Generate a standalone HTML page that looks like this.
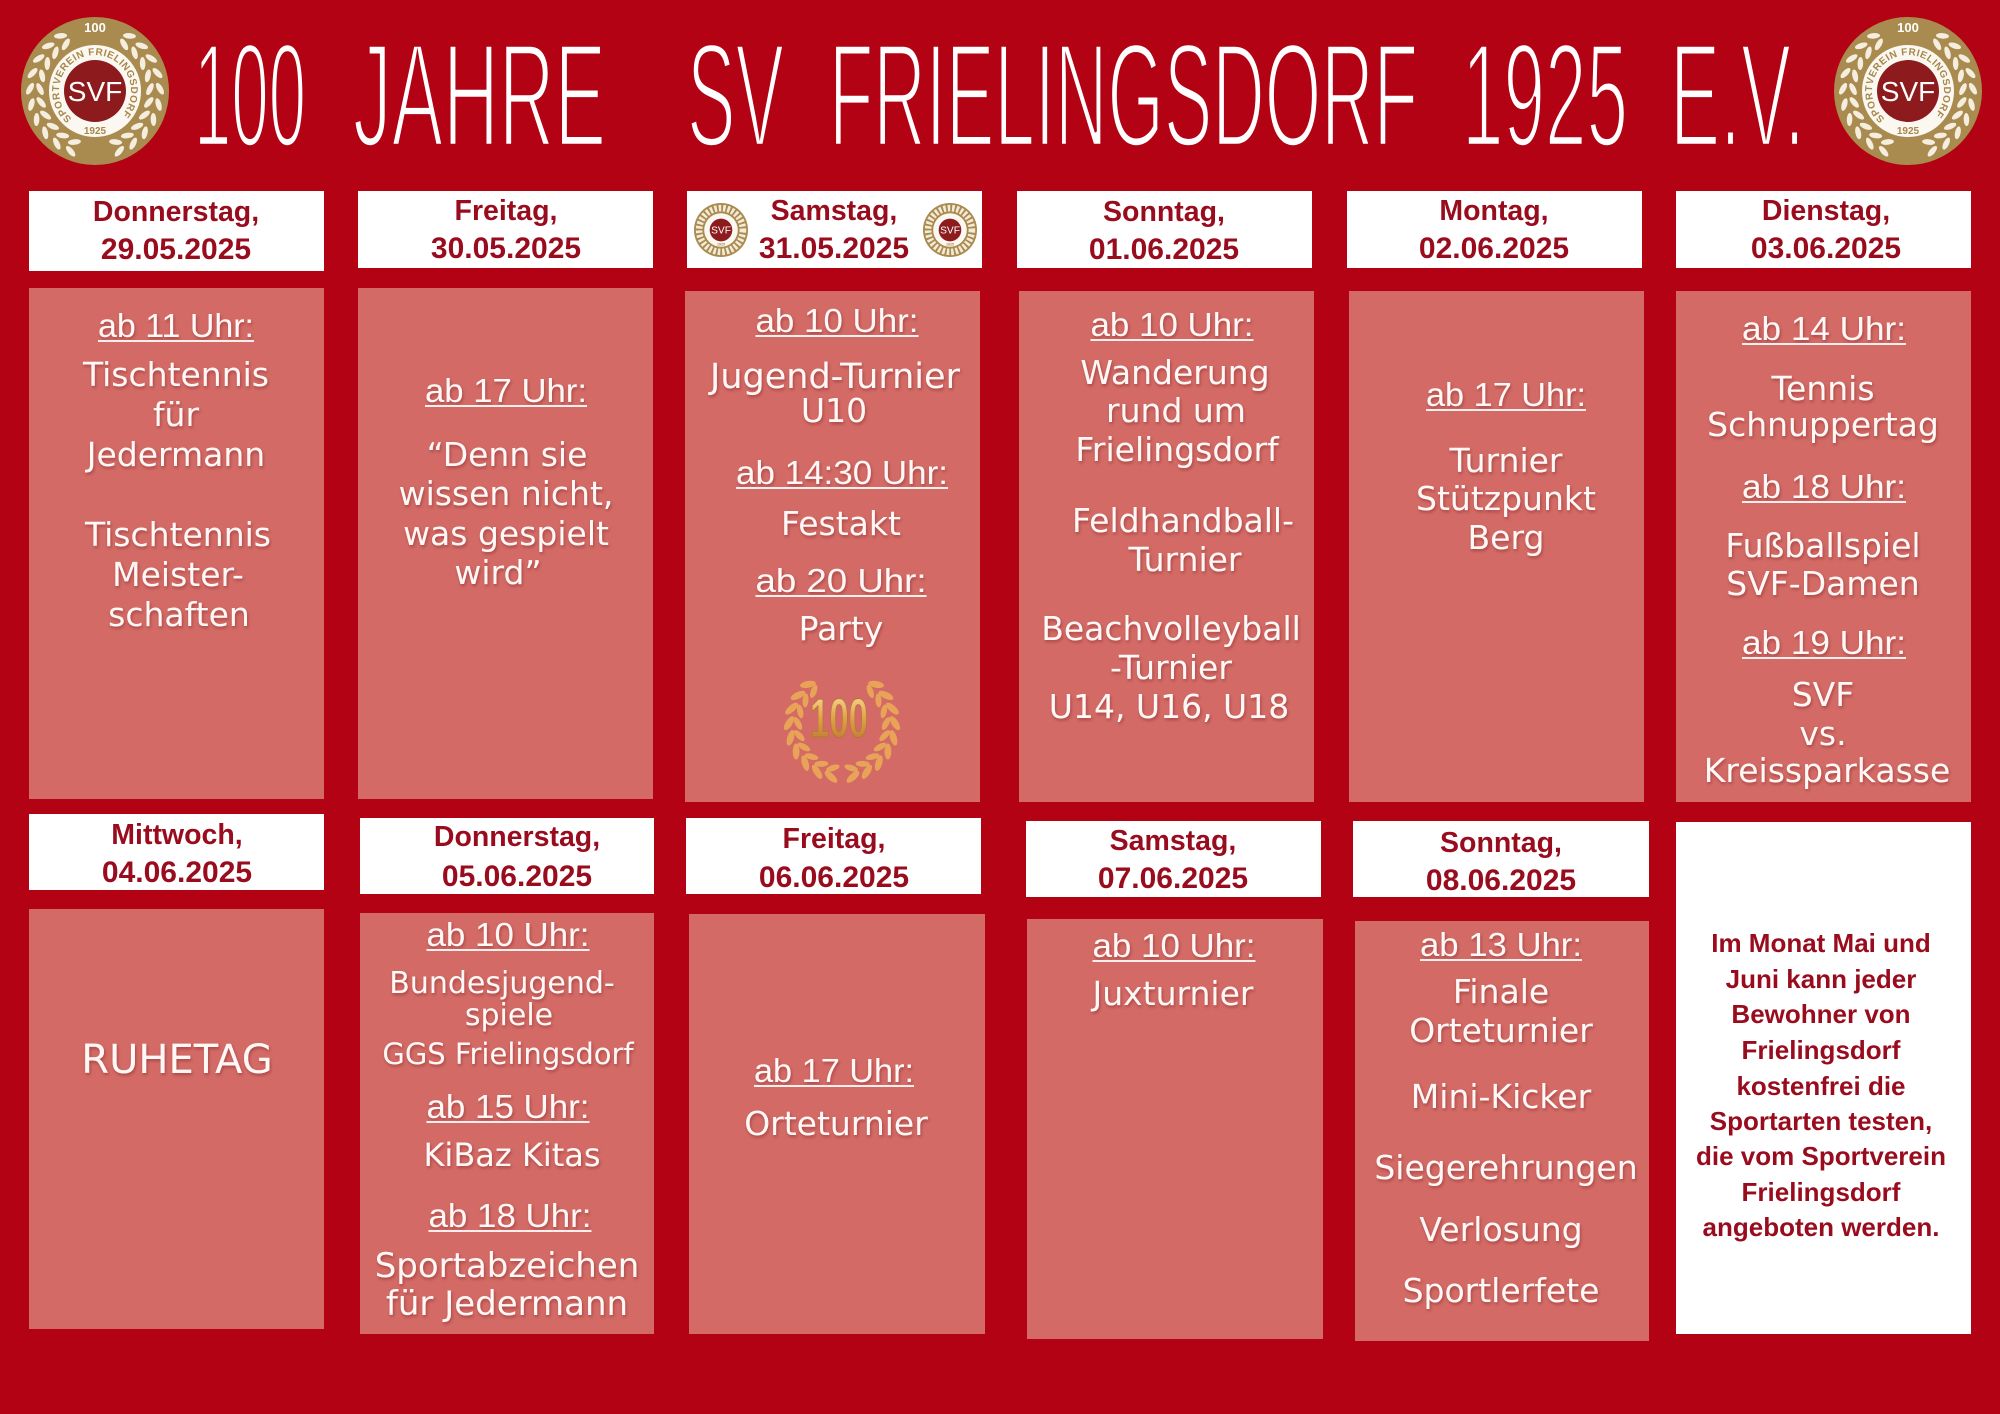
<!DOCTYPE html>
<html><head><meta charset="utf-8"><title>100 Jahre SV Frielingsdorf</title>
<style>
html,body{margin:0;padding:0;background:#b30213;}
svg{display:block;}
.hd{font-family:"Liberation Sans",sans-serif;font-weight:bold;fill:#980c1e;text-anchor:middle;}
.bd{font-family:"DejaVu Sans","Liberation Sans",sans-serif;fill:#fff8f6;text-anchor:middle;font-size:33px;}
.tm{font-family:"Liberation Sans",sans-serif;fill:#fff8f6;text-anchor:middle;font-size:33px;}
.ul{stroke:#fbeeec;stroke-width:2;}
.tt{font-family:"Liberation Sans",sans-serif;fill:#fff;stroke:#b30213;stroke-width:4.5;font-size:147.5px;}
.lg{font-family:"Liberation Sans",sans-serif;}
</style></head>
<body>
<svg width="2000" height="1414" viewBox="0 0 2000 1414" xmlns="http://www.w3.org/2000/svg">
<defs>
<filter id="sh" x="-10%" y="-10%" width="120%" height="120%"><feDropShadow dx="1" dy="2" stdDeviation="1.5" flood-color="#5a0000" flood-opacity="0.35"/></filter>
<path id="arc" d="M -23.1 27.6 A 36 36 0 1 1 23.1 27.6"/>
<linearGradient id="gold" x1="0" y1="0" x2="0" y2="1"><stop offset="0" stop-color="#ffe7a6"/><stop offset="0.5" stop-color="#dfa246"/><stop offset="1" stop-color="#b4702c"/></linearGradient>
</defs>
<rect width="2000" height="1414" fill="#b30213"/>

<!-- TITLE -->
<g class="tt">
<text x="194" y="146" textLength="112" lengthAdjust="spacingAndGlyphs">100</text>
<text x="353" y="146" textLength="253" lengthAdjust="spacingAndGlyphs">JAHRE</text>
<text x="687" y="146" textLength="97" lengthAdjust="spacingAndGlyphs">SV</text>
<text x="829" y="146" textLength="589" lengthAdjust="spacingAndGlyphs">FRIELINGSDORF</text>
<text x="1462" y="146" textLength="166" lengthAdjust="spacingAndGlyphs">1925</text>
<text x="1670" y="146" textLength="135" lengthAdjust="spacingAndGlyphs">E.V.</text>
</g>

<!-- LOGO LEFT -->
<g class="lg" transform="translate(95 91)">
<circle r="74" fill="#aa8b4f"/>
<g fill="#f5eedf">
<g transform="rotate(32)"><ellipse cy="-65" rx="6.5" ry="2.8" transform="rotate(-28 0 -65)"/><ellipse cy="-55" rx="6.5" ry="2.8" transform="rotate(28 0 -55)"/></g>
<g transform="rotate(46)"><ellipse cy="-65" rx="6.5" ry="2.8" transform="rotate(-28 0 -65)"/><ellipse cy="-55" rx="6.5" ry="2.8" transform="rotate(28 0 -55)"/></g>
<g transform="rotate(60)"><ellipse cy="-65" rx="6.5" ry="2.8" transform="rotate(-28 0 -65)"/><ellipse cy="-55" rx="6.5" ry="2.8" transform="rotate(28 0 -55)"/></g>
<g transform="rotate(74)"><ellipse cy="-65" rx="6.5" ry="2.8" transform="rotate(-28 0 -65)"/><ellipse cy="-55" rx="6.5" ry="2.8" transform="rotate(28 0 -55)"/></g>
<g transform="rotate(88)"><ellipse cy="-65" rx="6.5" ry="2.8" transform="rotate(-28 0 -65)"/><ellipse cy="-55" rx="6.5" ry="2.8" transform="rotate(28 0 -55)"/></g>
<g transform="rotate(102)"><ellipse cy="-65" rx="6.5" ry="2.8" transform="rotate(-28 0 -65)"/><ellipse cy="-55" rx="6.5" ry="2.8" transform="rotate(28 0 -55)"/></g>
<g transform="rotate(116)"><ellipse cy="-65" rx="6.5" ry="2.8" transform="rotate(-28 0 -65)"/><ellipse cy="-55" rx="6.5" ry="2.8" transform="rotate(28 0 -55)"/></g>
<g transform="rotate(130)"><ellipse cy="-65" rx="6.5" ry="2.8" transform="rotate(-28 0 -65)"/><ellipse cy="-55" rx="6.5" ry="2.8" transform="rotate(28 0 -55)"/></g>
<g transform="rotate(144)"><ellipse cy="-65" rx="6.5" ry="2.8" transform="rotate(-28 0 -65)"/><ellipse cy="-55" rx="6.5" ry="2.8" transform="rotate(28 0 -55)"/></g>
<g transform="rotate(158)"><ellipse cy="-65" rx="6.5" ry="2.8" transform="rotate(-28 0 -65)"/><ellipse cy="-55" rx="6.5" ry="2.8" transform="rotate(28 0 -55)"/></g>
<g transform="rotate(-32)"><ellipse cy="-65" rx="6.5" ry="2.8" transform="rotate(28 0 -65)"/><ellipse cy="-55" rx="6.5" ry="2.8" transform="rotate(-28 0 -55)"/></g>
<g transform="rotate(-46)"><ellipse cy="-65" rx="6.5" ry="2.8" transform="rotate(28 0 -65)"/><ellipse cy="-55" rx="6.5" ry="2.8" transform="rotate(-28 0 -55)"/></g>
<g transform="rotate(-60)"><ellipse cy="-65" rx="6.5" ry="2.8" transform="rotate(28 0 -65)"/><ellipse cy="-55" rx="6.5" ry="2.8" transform="rotate(-28 0 -55)"/></g>
<g transform="rotate(-74)"><ellipse cy="-65" rx="6.5" ry="2.8" transform="rotate(28 0 -65)"/><ellipse cy="-55" rx="6.5" ry="2.8" transform="rotate(-28 0 -55)"/></g>
<g transform="rotate(-88)"><ellipse cy="-65" rx="6.5" ry="2.8" transform="rotate(28 0 -65)"/><ellipse cy="-55" rx="6.5" ry="2.8" transform="rotate(-28 0 -55)"/></g>
<g transform="rotate(-102)"><ellipse cy="-65" rx="6.5" ry="2.8" transform="rotate(28 0 -65)"/><ellipse cy="-55" rx="6.5" ry="2.8" transform="rotate(-28 0 -55)"/></g>
<g transform="rotate(-116)"><ellipse cy="-65" rx="6.5" ry="2.8" transform="rotate(28 0 -65)"/><ellipse cy="-55" rx="6.5" ry="2.8" transform="rotate(-28 0 -55)"/></g>
<g transform="rotate(-130)"><ellipse cy="-65" rx="6.5" ry="2.8" transform="rotate(28 0 -65)"/><ellipse cy="-55" rx="6.5" ry="2.8" transform="rotate(-28 0 -55)"/></g>
<g transform="rotate(-144)"><ellipse cy="-65" rx="6.5" ry="2.8" transform="rotate(28 0 -65)"/><ellipse cy="-55" rx="6.5" ry="2.8" transform="rotate(-28 0 -55)"/></g>
<g transform="rotate(-158)"><ellipse cy="-65" rx="6.5" ry="2.8" transform="rotate(28 0 -65)"/><ellipse cy="-55" rx="6.5" ry="2.8" transform="rotate(-28 0 -55)"/></g>
</g>
<circle r="46" fill="#fbf8f2"/>
<circle r="31" fill="#8d1b1e"/>
<text y="10" font-size="28" fill="#fff" text-anchor="middle">SVF</text>
<text font-size="10" font-weight="bold" fill="#a8874a"><textPath href="#arc" textLength="170" lengthAdjust="spacing">SPORTVEREIN FRIELINGSDORF</textPath></text>
<text y="43" font-size="10" font-weight="bold" fill="#a8874a" text-anchor="middle">1925</text>
<text y="-59" font-size="13" font-weight="bold" fill="#fff" text-anchor="middle">100</text>
</g>

<!-- LOGO RIGHT -->
<g class="lg" transform="translate(1908 91)">
<circle r="74" fill="#aa8b4f"/>
<g fill="#f5eedf">
<g transform="rotate(32)"><ellipse cy="-65" rx="6.5" ry="2.8" transform="rotate(-28 0 -65)"/><ellipse cy="-55" rx="6.5" ry="2.8" transform="rotate(28 0 -55)"/></g>
<g transform="rotate(46)"><ellipse cy="-65" rx="6.5" ry="2.8" transform="rotate(-28 0 -65)"/><ellipse cy="-55" rx="6.5" ry="2.8" transform="rotate(28 0 -55)"/></g>
<g transform="rotate(60)"><ellipse cy="-65" rx="6.5" ry="2.8" transform="rotate(-28 0 -65)"/><ellipse cy="-55" rx="6.5" ry="2.8" transform="rotate(28 0 -55)"/></g>
<g transform="rotate(74)"><ellipse cy="-65" rx="6.5" ry="2.8" transform="rotate(-28 0 -65)"/><ellipse cy="-55" rx="6.5" ry="2.8" transform="rotate(28 0 -55)"/></g>
<g transform="rotate(88)"><ellipse cy="-65" rx="6.5" ry="2.8" transform="rotate(-28 0 -65)"/><ellipse cy="-55" rx="6.5" ry="2.8" transform="rotate(28 0 -55)"/></g>
<g transform="rotate(102)"><ellipse cy="-65" rx="6.5" ry="2.8" transform="rotate(-28 0 -65)"/><ellipse cy="-55" rx="6.5" ry="2.8" transform="rotate(28 0 -55)"/></g>
<g transform="rotate(116)"><ellipse cy="-65" rx="6.5" ry="2.8" transform="rotate(-28 0 -65)"/><ellipse cy="-55" rx="6.5" ry="2.8" transform="rotate(28 0 -55)"/></g>
<g transform="rotate(130)"><ellipse cy="-65" rx="6.5" ry="2.8" transform="rotate(-28 0 -65)"/><ellipse cy="-55" rx="6.5" ry="2.8" transform="rotate(28 0 -55)"/></g>
<g transform="rotate(144)"><ellipse cy="-65" rx="6.5" ry="2.8" transform="rotate(-28 0 -65)"/><ellipse cy="-55" rx="6.5" ry="2.8" transform="rotate(28 0 -55)"/></g>
<g transform="rotate(158)"><ellipse cy="-65" rx="6.5" ry="2.8" transform="rotate(-28 0 -65)"/><ellipse cy="-55" rx="6.5" ry="2.8" transform="rotate(28 0 -55)"/></g>
<g transform="rotate(-32)"><ellipse cy="-65" rx="6.5" ry="2.8" transform="rotate(28 0 -65)"/><ellipse cy="-55" rx="6.5" ry="2.8" transform="rotate(-28 0 -55)"/></g>
<g transform="rotate(-46)"><ellipse cy="-65" rx="6.5" ry="2.8" transform="rotate(28 0 -65)"/><ellipse cy="-55" rx="6.5" ry="2.8" transform="rotate(-28 0 -55)"/></g>
<g transform="rotate(-60)"><ellipse cy="-65" rx="6.5" ry="2.8" transform="rotate(28 0 -65)"/><ellipse cy="-55" rx="6.5" ry="2.8" transform="rotate(-28 0 -55)"/></g>
<g transform="rotate(-74)"><ellipse cy="-65" rx="6.5" ry="2.8" transform="rotate(28 0 -65)"/><ellipse cy="-55" rx="6.5" ry="2.8" transform="rotate(-28 0 -55)"/></g>
<g transform="rotate(-88)"><ellipse cy="-65" rx="6.5" ry="2.8" transform="rotate(28 0 -65)"/><ellipse cy="-55" rx="6.5" ry="2.8" transform="rotate(-28 0 -55)"/></g>
<g transform="rotate(-102)"><ellipse cy="-65" rx="6.5" ry="2.8" transform="rotate(28 0 -65)"/><ellipse cy="-55" rx="6.5" ry="2.8" transform="rotate(-28 0 -55)"/></g>
<g transform="rotate(-116)"><ellipse cy="-65" rx="6.5" ry="2.8" transform="rotate(28 0 -65)"/><ellipse cy="-55" rx="6.5" ry="2.8" transform="rotate(-28 0 -55)"/></g>
<g transform="rotate(-130)"><ellipse cy="-65" rx="6.5" ry="2.8" transform="rotate(28 0 -65)"/><ellipse cy="-55" rx="6.5" ry="2.8" transform="rotate(-28 0 -55)"/></g>
<g transform="rotate(-144)"><ellipse cy="-65" rx="6.5" ry="2.8" transform="rotate(28 0 -65)"/><ellipse cy="-55" rx="6.5" ry="2.8" transform="rotate(-28 0 -55)"/></g>
<g transform="rotate(-158)"><ellipse cy="-65" rx="6.5" ry="2.8" transform="rotate(28 0 -65)"/><ellipse cy="-55" rx="6.5" ry="2.8" transform="rotate(-28 0 -55)"/></g>
</g>
<circle r="46" fill="#fbf8f2"/>
<circle r="31" fill="#8d1b1e"/>
<text y="10" font-size="28" fill="#fff" text-anchor="middle">SVF</text>
<text font-size="10" font-weight="bold" fill="#a8874a"><textPath href="#arc" textLength="170" lengthAdjust="spacing">SPORTVEREIN FRIELINGSDORF</textPath></text>
<text y="43" font-size="10" font-weight="bold" fill="#a8874a" text-anchor="middle">1925</text>
<text y="-59" font-size="13" font-weight="bold" fill="#fff" text-anchor="middle">100</text>
</g>

<!-- ROW 1 HEADERS -->
<g fill="#ffffff">
<rect x="29" y="191" width="295" height="80"/>
<rect x="358" y="191" width="295" height="77"/>
<rect x="687" y="191" width="295" height="77"/>
<rect x="1017" y="191" width="295" height="77"/>
<rect x="1347" y="191" width="295" height="77"/>
<rect x="1676" y="191" width="295" height="77"/>
</g>
<g class="hd">
<text x="176" y="221" font-size="28.5">Donnerstag,</text><text x="176" y="259" font-size="30">29.05.2025</text>
<text x="506" y="220" font-size="28.5">Freitag,</text><text x="506" y="258" font-size="30">30.05.2025</text>
<text x="834" y="220" font-size="28.5">Samstag,</text><text x="834" y="258" font-size="30">31.05.2025</text>
<text x="1164" y="221" font-size="28.5">Sonntag,</text><text x="1164" y="259" font-size="30">01.06.2025</text>
<text x="1494" y="220" font-size="28.5">Montag,</text><text x="1494" y="258" font-size="30">02.06.2025</text>
<text x="1826" y="220" font-size="28.5">Dienstag,</text><text x="1826" y="258" font-size="30">03.06.2025</text>
</g>

<!-- small logos in Samstag header -->
<g class="lg" transform="translate(721 230) scale(0.365)">
<circle r="74" fill="#aa8b4f"/>
<circle r="60" fill="none" stroke="#f3ead8" stroke-width="18" stroke-dasharray="7 5"/>
<circle r="46" fill="#fbf8f2"/>
<circle r="31" fill="#8d1b1e"/>
<text y="10" font-size="28" fill="#fff" text-anchor="middle">SVF</text>
<text y="43" font-size="10" font-weight="bold" fill="#a8874a" text-anchor="middle">1925</text>
</g>
<g class="lg" transform="translate(950 230) scale(0.365)">
<circle r="74" fill="#aa8b4f"/>
<circle r="60" fill="none" stroke="#f3ead8" stroke-width="18" stroke-dasharray="7 5"/>
<circle r="46" fill="#fbf8f2"/>
<circle r="31" fill="#8d1b1e"/>
<text y="10" font-size="28" fill="#fff" text-anchor="middle">SVF</text>
<text y="43" font-size="10" font-weight="bold" fill="#a8874a" text-anchor="middle">1925</text>
</g>

<!-- ROW 1 CONTENT BOXES -->
<g fill="#d36a66">
<rect x="29" y="288" width="295" height="511"/>
<rect x="358" y="288" width="295" height="511"/>
<rect x="685" y="291" width="295" height="511"/>
<rect x="1019" y="291" width="295" height="511"/>
<rect x="1349" y="291" width="295" height="511"/>
<rect x="1676" y="291" width="295" height="511"/>
</g>

<!-- ROW 2 HEADERS -->
<g fill="#ffffff">
<rect x="29" y="814" width="295" height="76"/>
<rect x="360" y="818" width="294" height="76"/>
<rect x="686" y="818" width="295" height="76"/>
<rect x="1026" y="821" width="295" height="76"/>
<rect x="1353" y="821" width="296" height="76"/>
<rect x="1676" y="822" width="295" height="512"/>
</g>
<g class="hd">
<text x="177" y="844" font-size="28.5">Mittwoch,</text><text x="177" y="882" font-size="30">04.06.2025</text>
<text x="517" y="846" font-size="28.5">Donnerstag,</text><text x="517" y="886" font-size="30">05.06.2025</text>
<text x="834" y="848" font-size="28.5">Freitag,</text><text x="834" y="887" font-size="30">06.06.2025</text>
<text x="1173" y="850" font-size="28.5">Samstag,</text><text x="1173" y="888" font-size="30">07.06.2025</text>
<text x="1501" y="852" font-size="28.5">Sonntag,</text><text x="1501" y="890" font-size="30">08.06.2025</text>
</g>
<g class="hd" font-size="26">
<text x="1821" y="952">Im Monat Mai und</text>
<text x="1821" y="988">Juni kann jeder</text>
<text x="1821" y="1023">Bewohner von</text>
<text x="1821" y="1059">Frielingsdorf</text>
<text x="1821" y="1095">kostenfrei die</text>
<text x="1821" y="1130">Sportarten testen,</text>
<text x="1821" y="1165">die vom Sportverein</text>
<text x="1821" y="1201">Frielingsdorf</text>
<text x="1821" y="1236">angeboten werden.</text>
</g>

<!-- ROW 2 CONTENT BOXES -->
<g fill="#d36a66">
<rect x="29" y="909" width="295" height="420"/>
<rect x="360" y="913" width="294" height="421"/>
<rect x="689" y="914" width="296" height="420"/>
<rect x="1027" y="919" width="296" height="420"/>
<rect x="1355" y="921" width="294" height="420"/>
</g>

<!-- 100 wreath -->
<g transform="translate(842 725)" fill="#e8a358">
<g transform="rotate(40)"><ellipse cy="-53" rx="8" ry="3.4" transform="rotate(-30 0 -53)"/><ellipse cy="-44" rx="7" ry="3" transform="rotate(30 0 -44)"/></g>
<g transform="rotate(56)"><ellipse cy="-53" rx="8" ry="3.4" transform="rotate(-30 0 -53)"/><ellipse cy="-44" rx="7" ry="3" transform="rotate(30 0 -44)"/></g>
<g transform="rotate(72)"><ellipse cy="-53" rx="8" ry="3.4" transform="rotate(-30 0 -53)"/><ellipse cy="-44" rx="7" ry="3" transform="rotate(30 0 -44)"/></g>
<g transform="rotate(88)"><ellipse cy="-53" rx="8" ry="3.4" transform="rotate(-30 0 -53)"/><ellipse cy="-44" rx="7" ry="3" transform="rotate(30 0 -44)"/></g>
<g transform="rotate(104)"><ellipse cy="-53" rx="8" ry="3.4" transform="rotate(-30 0 -53)"/><ellipse cy="-44" rx="7" ry="3" transform="rotate(30 0 -44)"/></g>
<g transform="rotate(120)"><ellipse cy="-53" rx="8" ry="3.4" transform="rotate(-30 0 -53)"/><ellipse cy="-44" rx="7" ry="3" transform="rotate(30 0 -44)"/></g>
<g transform="rotate(136)"><ellipse cy="-53" rx="8" ry="3.4" transform="rotate(-30 0 -53)"/><ellipse cy="-44" rx="7" ry="3" transform="rotate(30 0 -44)"/></g>
<g transform="rotate(152)"><ellipse cy="-53" rx="8" ry="3.4" transform="rotate(-30 0 -53)"/><ellipse cy="-44" rx="7" ry="3" transform="rotate(30 0 -44)"/></g>
<g transform="rotate(168)"><ellipse cy="-53" rx="8" ry="3.4" transform="rotate(-30 0 -53)"/><ellipse cy="-44" rx="7" ry="3" transform="rotate(30 0 -44)"/></g>
<g transform="rotate(-40)"><ellipse cy="-53" rx="8" ry="3.4" transform="rotate(30 0 -53)"/><ellipse cy="-44" rx="7" ry="3" transform="rotate(-30 0 -44)"/></g>
<g transform="rotate(-56)"><ellipse cy="-53" rx="8" ry="3.4" transform="rotate(30 0 -53)"/><ellipse cy="-44" rx="7" ry="3" transform="rotate(-30 0 -44)"/></g>
<g transform="rotate(-72)"><ellipse cy="-53" rx="8" ry="3.4" transform="rotate(30 0 -53)"/><ellipse cy="-44" rx="7" ry="3" transform="rotate(-30 0 -44)"/></g>
<g transform="rotate(-88)"><ellipse cy="-53" rx="8" ry="3.4" transform="rotate(30 0 -53)"/><ellipse cy="-44" rx="7" ry="3" transform="rotate(-30 0 -44)"/></g>
<g transform="rotate(-104)"><ellipse cy="-53" rx="8" ry="3.4" transform="rotate(30 0 -53)"/><ellipse cy="-44" rx="7" ry="3" transform="rotate(-30 0 -44)"/></g>
<g transform="rotate(-120)"><ellipse cy="-53" rx="8" ry="3.4" transform="rotate(30 0 -53)"/><ellipse cy="-44" rx="7" ry="3" transform="rotate(-30 0 -44)"/></g>
<g transform="rotate(-136)"><ellipse cy="-53" rx="8" ry="3.4" transform="rotate(30 0 -53)"/><ellipse cy="-44" rx="7" ry="3" transform="rotate(-30 0 -44)"/></g>
<g transform="rotate(-152)"><ellipse cy="-53" rx="8" ry="3.4" transform="rotate(30 0 -53)"/><ellipse cy="-44" rx="7" ry="3" transform="rotate(-30 0 -44)"/></g>
<g transform="rotate(-168)"><ellipse cy="-53" rx="8" ry="3.4" transform="rotate(30 0 -53)"/><ellipse cy="-44" rx="7" ry="3" transform="rotate(-30 0 -44)"/></g>
</g>
<text x="810" y="737" textLength="58" lengthAdjust="spacingAndGlyphs" font-family="Liberation Sans,sans-serif" font-weight="bold" font-size="55" fill="url(#gold)" stroke="#b0742e" stroke-width="0.8">100</text>

<!-- TIME LABELS -->
<g class="tm" filter="url(#sh)">
<text x="176" y="337" textLength="156" lengthAdjust="spacingAndGlyphs">ab 11 Uhr:</text>
<text x="506" y="402" textLength="162" lengthAdjust="spacingAndGlyphs">ab 17 Uhr:</text>
<text x="837" y="332" textLength="163" lengthAdjust="spacingAndGlyphs">ab 10 Uhr:</text>
<text x="842" y="484" textLength="212" lengthAdjust="spacingAndGlyphs">ab 14:30 Uhr:</text>
<text x="841" y="592" textLength="171" lengthAdjust="spacingAndGlyphs">ab 20 Uhr:</text>
<text x="1172" y="336" textLength="163" lengthAdjust="spacingAndGlyphs">ab 10 Uhr:</text>
<text x="1506" y="406" textLength="160" lengthAdjust="spacingAndGlyphs">ab 17 Uhr:</text>
<text x="1824" y="340" textLength="164" lengthAdjust="spacingAndGlyphs">ab 14 Uhr:</text>
<text x="1824" y="498" textLength="164" lengthAdjust="spacingAndGlyphs">ab 18 Uhr:</text>
<text x="1824" y="654" textLength="164" lengthAdjust="spacingAndGlyphs">ab 19 Uhr:</text>
<text x="508" y="946" textLength="163" lengthAdjust="spacingAndGlyphs">ab 10 Uhr:</text>
<text x="508" y="1118" textLength="163" lengthAdjust="spacingAndGlyphs">ab 15 Uhr:</text>
<text x="510" y="1227" textLength="163" lengthAdjust="spacingAndGlyphs">ab 18 Uhr:</text>
<text x="834" y="1082" textLength="160" lengthAdjust="spacingAndGlyphs">ab 17 Uhr:</text>
<text x="1174" y="957" textLength="163" lengthAdjust="spacingAndGlyphs">ab 10 Uhr:</text>
<text x="1501" y="956" textLength="162" lengthAdjust="spacingAndGlyphs">ab 13 Uhr:</text>
</g>
<g class="ul">
<line x1="98" y1="341" x2="254" y2="341"/>
<line x1="425" y1="406" x2="587" y2="406"/>
<line x1="755.5" y1="336" x2="918.5" y2="336"/>
<line x1="736" y1="488" x2="948" y2="488"/>
<line x1="755.5" y1="596" x2="926.5" y2="596"/>
<line x1="1090.5" y1="340" x2="1253.5" y2="340"/>
<line x1="1426" y1="410" x2="1586" y2="410"/>
<line x1="1742" y1="344" x2="1906" y2="344"/>
<line x1="1742" y1="502" x2="1906" y2="502"/>
<line x1="1742" y1="658" x2="1906" y2="658"/>
<line x1="426.5" y1="950" x2="589.5" y2="950"/>
<line x1="426.5" y1="1122" x2="589.5" y2="1122"/>
<line x1="428.5" y1="1231" x2="591.5" y2="1231"/>
<line x1="754" y1="1086" x2="914" y2="1086"/>
<line x1="1092.5" y1="961" x2="1255.5" y2="961"/>
<line x1="1420" y1="960" x2="1582" y2="960"/>
</g>

<!-- BODY TEXT -->
<g class="bd" filter="url(#sh)">
<text x="176" y="386">Tischtennis</text>
<text x="176" y="426">für</text>
<text x="176" y="466">Jedermann</text>
<text x="178" y="546">Tischtennis</text>
<text x="178" y="586">Meister-</text>
<text x="179" y="626">schaften</text>
<text x="507" y="466">“Denn sie</text>
<text x="506" y="505">wissen nicht,</text>
<text x="506" y="545">was gespielt</text>
<text x="498" y="584">wird”</text>
<text x="835" y="388" font-size="35">Jugend-Turnier</text>
<text x="834" y="422">U10</text>
<text x="841" y="535">Festakt</text>
<text x="841" y="640">Party</text>
<text x="1175" y="384">Wanderung</text>
<text x="1176" y="422">rund um</text>
<text x="1177" y="461">Frielingsdorf</text>
<text x="1183" y="532">Feldhandball-</text>
<text x="1185" y="571">Turnier</text>
<text x="1171" y="640">Beachvolleyball</text>
<text x="1171" y="679">-Turnier</text>
<text x="1169" y="718">U14, U16, U18</text>
<text x="1506" y="472">Turnier</text>
<text x="1506" y="510">Stützpunkt</text>
<text x="1506" y="549">Berg</text>
<text x="1823" y="400">Tennis</text>
<text x="1823" y="436">Schnuppertag</text>
<text x="1823" y="557">Fußballspiel</text>
<text x="1823" y="595">SVF-Damen</text>
<text x="1823" y="706">SVF</text>
<text x="1823" y="745">vs.</text>
<text x="1827" y="782">Kreissparkasse</text>
<text x="177" y="1073" font-size="40">RUHETAG</text>
<text x="502" y="993" font-size="30">Bundesjugend-</text>
<text x="509" y="1025" font-size="30">spiele</text>
<text x="508" y="1064" font-size="29">GGS Frielingsdorf</text>
<text x="512" y="1166" font-size="32">KiBaz Kitas</text>
<text x="507" y="1277" font-size="34">Sportabzeichen</text>
<text x="507" y="1315" font-size="34">für Jedermann</text>
<text x="836" y="1135">Orteturnier</text>
<text x="1173" y="1005">Juxturnier</text>
<text x="1501" y="1003">Finale</text>
<text x="1501" y="1042">Orteturnier</text>
<text x="1501" y="1108">Mini-Kicker</text>
<text x="1506" y="1179">Siegerehrungen</text>
<text x="1501" y="1241">Verlosung</text>
<text x="1501" y="1302">Sportlerfete</text>
</g>
</svg>
</body></html>
